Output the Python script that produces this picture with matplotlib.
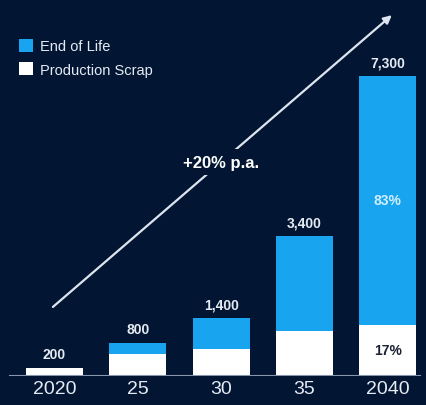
import matplotlib.pyplot as plt

# ---------------- datos ----------------
categorias = ["2020", "25", "30", "35", "2040"]
totales = [200, 800, 1400, 3400, 7300]
scrap = [200, 530, 650, 1100, 1241]
fin_vida = [0, 270, 750, 2300, 6059]
etiquetas_tot = ["200", "800", "1,400", "3,400", "7,300"]
pct_fin = "83%"
pct_scrap = "17%"
crecimiento = "+20% p.a."

# ---------------- estilo ----------------
fondo = "#021633"
azul = "#18a4ee"
blanco = "#ffffff"
texto = "#e6ebf3"
plt.rcParams["font.family"] = ["Liberation Sans", "DejaVu Sans"]

fig = plt.figure(figsize=(4.26, 4.06), dpi=100, facecolor=fondo)
ax = fig.add_axes([0, 29 / 406, 1, 377 / 406])
ax.set_facecolor(fondo)

x = list(range(len(categorias)))
ancho = 0.685
ax.bar(x, scrap, width=ancho, color=blanco, label="Production Scrap", zorder=2)
ax.bar(x, fin_vida, width=ancho, bottom=scrap, color=azul, label="End of Life", zorder=2)

ax.set_xlim(-0.655, 4.46)
ax.set_ylim(0, 9173)

# valores totales
for xi, t, lab in zip(x, totales, etiquetas_tot):
    ax.annotate(lab, (xi, t), xytext=(0, 5), textcoords="offset points",
                ha="center", va="bottom", color=texto, fontsize=10, fontweight="bold")

# porcentajes en la ultima barra
ax.text(x[-1], scrap[-1] + fin_vida[-1] / 2, pct_fin, ha="center", va="center",
        color="#cfeeff", fontsize=10, fontweight="bold")
ax.text(x[-1], scrap[-1] / 2, pct_scrap, ha="center", va="center",
        color="#1b2233", fontsize=10, fontweight="bold")

# flecha de crecimiento
ax.annotate("", xy=(4.05, 8780), xytext=(-0.02, 1680),
            arrowprops=dict(arrowstyle="-|>", color="#dfe5ee", lw=1.6,
                            mutation_scale=12, shrinkA=0, shrinkB=0), zorder=3)
ax.text(2.0, 5200, crecimiento, ha="center", va="center", color=blanco,
        fontsize=12, fontweight="bold", zorder=4,
        bbox=dict(facecolor=fondo, edgecolor="none", pad=4))

# eje base
ax.axhline(0, xmin=0.023, xmax=0.986, color="#8796ad", lw=1.5, zorder=3)
for s in ax.spines.values():
    s.set_visible(False)
ax.set_yticks([])
ax.set_xticks(x)
ax.set_xticklabels(categorias, fontsize=14, color=texto)
ax.tick_params(axis="x", length=0, pad=3)

# leyenda
h, l = ax.get_legend_handles_labels()
leg = ax.legend(h[::-1], l[::-1], loc="upper left", bbox_to_anchor=(0.03, 0.91),
                frameon=False, fontsize=10.5, handlelength=1.0, handleheight=1.0,
                handletextpad=0.5, labelspacing=0.6, borderaxespad=0)
for t in leg.get_texts():
    t.set_color(texto)

fig.savefig("out.png", dpi=100, facecolor=fondo)
